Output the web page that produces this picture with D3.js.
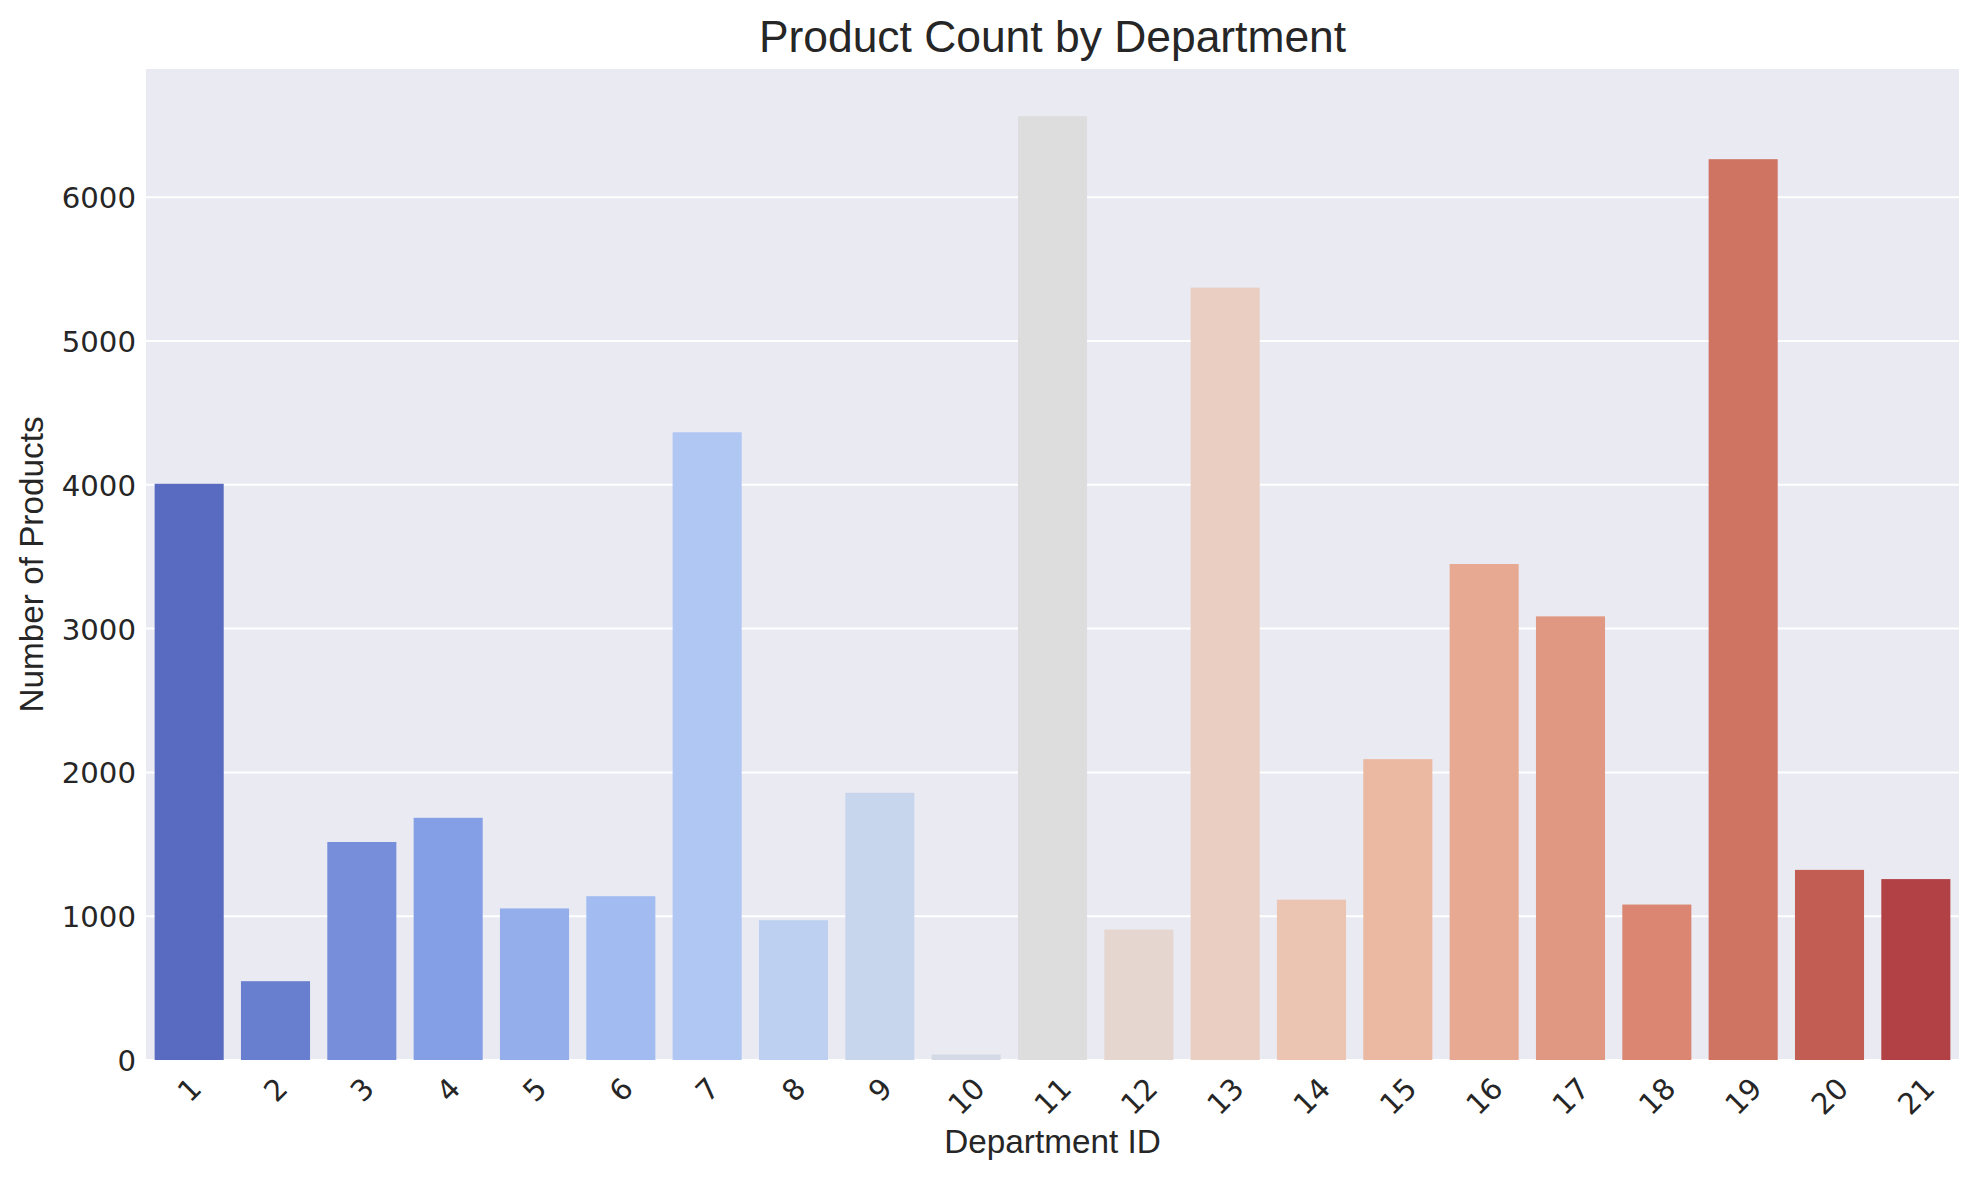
<!DOCTYPE html>
<html>
<head>
<meta charset="utf-8">
<script src="https://cdn.jsdelivr.net/npm/d3@7"></script>
<style>
  body { margin: 0; background: #fff; }
  text { fill: #262626; }
</style>
</head>
<body>
<svg id="chart" width="1979" height="1180"></svg>
<script>
// Data
const departments = [1, 2, 3, 4, 5, 6, 7, 8, 9, 10, 11, 12, 13, 14, 15, 16, 17, 18, 19, 20, 21];
const productCounts = [4007, 548, 1516, 1684, 1054, 1139, 4365, 972, 1858, 38, 6563,
                       907, 5371, 1115, 2092, 3449, 3085, 1081, 6264, 1322, 1258];
const yTicks = [0, 1000, 2000, 3000, 4000, 5000, 6000];

// matplotlib "coolwarm" sampled every 1/16
const coolwarmStops = d3.range(17).map(i => i / 16);
const coolwarmColors = ["#3b4cc0", "#4d68d7", "#6282ea", "#779af7", "#8db0fe", "#a3c2fe",
                        "#b8d0f9", "#cbd8ee", "#dddddd", "#ecd3c5", "#f5c4ad", "#f7b194",
                        "#f49a7b", "#ec7f63", "#de604d", "#cb3e38", "#b40426"];

const width = 1979, height = 1180;
const margin = { top: 69, right: 20, bottom: 120, left: 146 };
const innerW = width - margin.left - margin.right;
const innerH = height - margin.top - margin.bottom;

const svg = d3.select("#chart");
const g = svg.append("g").attr("transform", `translate(${margin.left},${margin.top})`);

const x = d3.scaleBand()
    .domain(departments)
    .range([0, innerW])
    .paddingInner(0.2)
    .paddingOuter(0.1);

const y = d3.scaleLinear()
    .domain([0, d3.max(productCounts) * 1.05])
    .range([innerH, 0]);

const coolwarm = d3.scaleLinear()
    .domain(coolwarmStops)
    .range(coolwarmColors)
    .interpolate(d3.interpolateRgb);

// seaborn palette: n colours from the inner bins, then desaturated to 0.75
function barColor(i) {
    const c = d3.hsl(coolwarm((i + 1) / (departments.length + 1)));
    c.s *= 0.75;
    return c.formatHex();
}

g.append("rect")
    .attr("width", innerW)
    .attr("height", innerH)
    .attr("fill", "#eaeaf2");

// horizontal grid
g.append("g")
    .selectAll("line")
    .data(yTicks)
    .join("line")
    .attr("x1", 0)
    .attr("x2", innerW)
    .attr("y1", d => y(d))
    .attr("y2", d => y(d))
    .attr("stroke", "#fff")
    .attr("stroke-width", 2);

// bars
g.append("g")
    .selectAll("rect")
    .data(departments)
    .join("rect")
    .attr("x", d => x(d))
    .attr("width", x.bandwidth())
    .attr("y", (d, i) => y(productCounts[i]))
    .attr("height", (d, i) => innerH - y(productCounts[i]))
    .attr("fill", (d, i) => barColor(i));

const tickFs = 29.2;

// y axis
const yAxis = g.append("g")
    .call(d3.axisLeft(y).tickValues(yTicks).tickSize(0).tickPadding(10).tickFormat(d3.format("d")));
yAxis.select(".domain").remove();
yAxis.selectAll("text")
    .attr("font-family", "DejaVu Sans")
    .attr("font-size", tickFs)
    .attr("fill", "#262626")
    .attr("dy", "0.36em");

// x axis, labels rotated 45 about their centre
const capH = 0.729 * tickFs;
const inkTop = 17;
const xAxis = g.append("g")
    .attr("transform", `translate(0,${innerH})`)
    .call(d3.axisBottom(x).tickSize(0));
xAxis.select(".domain").remove();
xAxis.selectAll("text")
    .attr("font-family", "DejaVu Sans")
    .attr("font-size", tickFs)
    .attr("fill", "#262626")
    .attr("text-anchor", "middle")
    .attr("y", 0)
    .attr("dy", "0.36em")
    .attr("transform", function () {
        const w = this.getComputedTextLength() - 0.16 * tickFs;
        const cy = inkTop + (w + capH) * Math.SQRT1_2 / 2;
        return `translate(0,${cy}) rotate(-45)`;
    });

// labels
svg.append("text")
    .attr("x", margin.left + innerW / 2)
    .attr("y", 52)
    .attr("text-anchor", "middle")
    .attr("font-family", "Liberation Sans, Arial, sans-serif")
    .attr("font-size", 44.4)
    .text("Product Count by Department");

svg.append("text")
    .attr("x", margin.left + innerW / 2)
    .attr("y", 1153)
    .attr("text-anchor", "middle")
    .attr("font-family", "Liberation Sans, Arial, sans-serif")
    .attr("font-size", 33.3)
    .text("Department ID");

svg.append("text")
    .attr("transform", `translate(43,${margin.top + innerH / 2}) rotate(-90)`)
    .attr("text-anchor", "middle")
    .attr("font-family", "Liberation Sans, Arial, sans-serif")
    .attr("font-size", 33.3)
    .text("Number of Products");
</script>
</body>
</html>
